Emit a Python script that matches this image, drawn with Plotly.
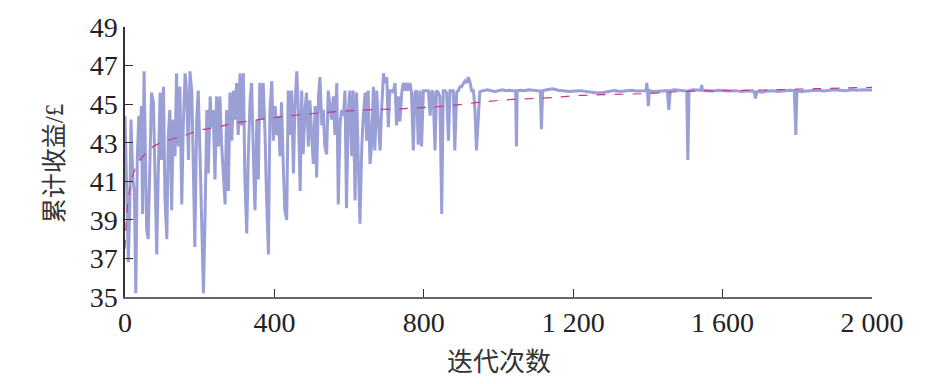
import plotly.graph_objects as go

# ---- data ----
iter_noisy = [0, 4, 9, 13, 16, 21, 25, 29, 33, 37, 40, 44, 47, 51, 54, 58, 62, 67, 71, 76,
              80, 85, 89, 94, 98, 103, 107, 112, 116, 120, 125, 129, 134, 138, 143, 147, 152, 156, 161, 165,
              170, 174, 179, 183, 187, 192, 196, 201, 205, 210, 214, 219, 223, 228, 232, 236, 241, 245, 250, 254,
              259, 268, 272, 277, 281, 286, 290, 294, 299, 303, 308, 312, 317, 321, 326, 330, 335, 339, 344, 348,
              353, 357, 361, 366, 370, 375, 379, 384, 388, 393, 397, 402, 406, 411, 415, 419, 424, 428, 433, 437,
              442, 446, 451, 455, 460, 464, 469, 473, 477, 482, 486, 491, 495, 500, 504, 509, 513, 518, 522, 527,
              531, 535, 540, 544, 549, 553, 558, 562, 567, 571, 576, 580, 585, 589, 593, 598, 602, 607, 611, 616,
              620, 625, 629, 634, 638, 643, 647, 651, 656, 660, 665, 669, 674, 678]
val_noisy = [44.4, 41.4, 36.8, 39.8, 44.2, 41.1, 40.5, 35.2, 42.3, 44.4, 42.1, 44.9, 39.3, 46.7, 42.8, 38.5, 38.0, 43.1, 45.6, 45.1,
             40.8, 37.2, 41.4, 45.6, 42.1, 45.9, 40.1, 38.0, 43.4, 44.7, 39.5, 44.2, 42.3, 46.6, 42.8, 45.9, 39.8, 43.9, 46.6, 45.6,
             42.1, 46.7, 45.6, 41.4, 37.6, 44.2, 45.7, 42.3, 39.5, 35.2, 38.8, 44.7, 41.4, 45.4, 43.8, 44.7, 41.1, 45.4, 42.8, 45.4,
             42.8, 39.8, 44.7, 40.5, 45.6, 43.1, 45.7, 44.2, 46.1, 43.4, 46.6, 43.9, 46.6, 41.0, 38.3, 42.3, 45.2, 46.1, 42.1, 39.5,
             44.2, 41.1, 46.1, 44.2, 46.1, 43.4, 40.1, 37.2, 44.7, 46.2, 43.1, 44.9, 43.4, 44.4, 42.3, 45.1, 41.7, 39.5, 39.0, 45.7,
             43.4, 45.7, 41.4, 44.9, 46.7, 44.7, 40.5, 45.7, 42.4, 44.7, 45.6, 42.8, 45.2, 43.1, 41.9, 44.9, 41.2, 45.4, 46.4, 43.9,
             44.7, 42.8, 42.4, 45.7, 44.7, 44.2, 45.4, 43.4, 46.1, 39.8, 44.0, 44.7, 44.4, 45.7, 39.6, 44.7, 45.7, 42.3, 45.7, 40.0,
             45.6, 42.3, 38.8, 42.8, 44.4, 45.6, 43.1, 45.7, 41.9, 42.8, 45.9, 42.6, 45.7, 44.2]

iter_mid = [683, 687, 692, 696, 701, 705, 709, 714, 718, 723, 727, 732, 736, 741, 745, 750, 754, 759, 763, 767,
            772, 776, 781, 785, 790, 794, 799, 808, 812, 817, 821, 825, 830, 834, 839, 843, 848, 852, 857, 861,
            866, 870, 875, 879, 883, 888, 892, 897, 901, 906, 910, 915, 919, 924, 928, 933, 937, 941, 946]
val_mid = [42.6, 44.7, 46.6, 46.1, 46.4, 43.8, 45.7, 45.7, 45.6, 46.1, 43.9, 45.4, 44.1, 45.6, 46.1, 45.7, 46.1, 45.7, 46.1, 45.6,
           42.6, 45.6, 45.7, 42.9, 45.7, 42.8, 45.7, 45.7, 45.7, 44.4, 45.7, 45.6, 42.6, 45.7, 45.6, 45.4, 39.3, 45.7, 45.7, 45.6,
           43.1, 45.7, 45.7, 45.7, 42.6, 45.6, 45.7, 45.9, 45.9, 46.1, 46.2, 46.1, 46.4, 46.1, 45.7, 45.7, 44.7, 42.6, 44.7]

iter_flat = [950, 960, 970, 980, 990, 1000, 1010, 1020, 1030, 1040, 1046, 1048, 1050, 1060, 1070, 1080, 1090, 1100, 1112, 1115,
             1118, 1130, 1145, 1160, 1175, 1190, 1205, 1220, 1235, 1250, 1265, 1280, 1295, 1310, 1325, 1340, 1355, 1370, 1385, 1395,
             1397, 1399, 1401, 1404, 1415, 1430, 1445, 1452, 1456, 1460, 1470, 1485, 1495, 1504, 1507, 1510, 1520, 1535, 1542, 1544,
             1546, 1560, 1575, 1590, 1605, 1620, 1635, 1650, 1665, 1680, 1685, 1688, 1692, 1705, 1720, 1735, 1750, 1765, 1780, 1792,
             1796, 1799, 1810, 1825, 1840, 1855, 1870, 1885, 1900, 1915, 1930, 1945, 1960, 1975, 1990, 2000]
val_flat = [45.65, 45.7, 45.75, 45.7, 45.65, 45.7, 45.75, 45.7, 45.72, 45.7, 45.68, 42.8, 45.7, 45.72, 45.7, 45.75, 45.72, 45.7, 45.68, 43.7,
            45.7, 45.75, 45.8, 45.72, 45.7, 45.65, 45.68, 45.7, 45.65, 45.6, 45.58, 45.6, 45.65, 45.7, 45.66, 45.7, 45.72, 45.68, 45.7, 45.7,
            46.1, 45.7, 44.9, 45.7, 45.66, 45.68, 45.72, 45.7, 44.7, 45.7, 45.75, 45.72, 45.7, 45.68, 42.1, 45.7, 45.75, 45.72, 45.72, 46.0,
            45.72, 45.7, 45.68, 45.72, 45.7, 45.68, 45.7, 45.65, 45.68, 45.7, 45.6, 45.3, 45.65, 45.62, 45.68, 45.7, 45.66, 45.7, 45.72, 45.7,
            43.4, 45.7, 45.65, 45.68, 45.7, 45.72, 45.68, 45.7, 45.75, 45.72, 45.7, 45.74, 45.72, 45.75, 45.72, 45.73]

iter_avg = [0, 4, 9, 18, 31, 49, 76, 112, 156, 201, 245, 290, 379, 468, 558, 647, 727, 772, 861, 950,
            1040, 1129, 1218, 1307, 1397, 1486, 1600, 1700, 1850, 2000]
val_avg = [37.5, 39.1, 40.1, 41.1, 41.8, 42.3, 42.8, 43.1, 43.35, 43.65, 43.8, 44.0, 44.25, 44.45, 44.6, 44.7, 44.75, 44.8, 44.9, 45.1,
           45.25, 45.32, 45.45, 45.5, 45.55, 45.65, 45.7, 45.73, 45.8, 45.87]

x_tick_vals = [0, 400, 800, 1200, 1600, 2000]
x_tick_text = ["0", "400", "800", "1 200", "1 600", "2 000"]
y_tick_vals = [35, 37, 39, 41, 43, 45, 47, 49]

x_all = iter_noisy + iter_mid + iter_flat
y_all = val_noisy + val_mid + val_flat

SERIF = "Liberation Serif, Times New Roman, Times, DejaVu Serif, serif"
CJK = "Noto Sans CJK SC"

fig = go.Figure()
fig.add_trace(go.Scatter(x=x_all, y=y_all, mode="lines",
                         line=dict(color="#9a9fd6", width=3), showlegend=False))
fig.add_trace(go.Scatter(x=iter_avg, y=val_avg, mode="lines", line_shape="spline",
                         line=dict(color="#c23a8c", width=1.2, dash="dash"), showlegend=False))

fig.update_layout(
    width=945, height=384,
    margin=dict(l=125, r=73, t=14, b=87),
    plot_bgcolor="white", paper_bgcolor="white",
    font=dict(family=SERIF, color="#222", size=26),
    xaxis=dict(range=[0, 2000], tickvals=x_tick_vals, ticktext=x_tick_text,
               showgrid=False, zeroline=False, showline=True, linecolor="#666", linewidth=1.5,
               ticks="inside", ticklen=8, tickcolor="#333", tickwidth=1,
               ticklabeloverflow="allow",
               tickfont=dict(family=SERIF, size=28, color="#222")),
    yaxis=dict(range=[35, 49], tickvals=y_tick_vals,
               showgrid=False, zeroline=False, showline=True, linecolor="#333", linewidth=1.5,
               ticks="inside", ticklen=8, tickcolor="#333", tickwidth=1,
               ticklabeloverflow="allow",
               tickfont=dict(family=SERIF, size=28, color="#222")),
    annotations=[
        dict(text="迭代次数", xref="paper", yref="paper", x=0.5, y=-0.23,
             xanchor="center", yanchor="middle", showarrow=False,
             font=dict(family=CJK, size=26, color="#333")),
        dict(text="累计收益/£",
             xref="paper", yref="paper", x=-0.094, y=0.495,
             xanchor="center", yanchor="middle", textangle=-90, showarrow=False,
             font=dict(family="Liberation Serif, Noto Sans CJK SC", size=25, color="#333")),
    ],
)

fig.write_html("out.html")
